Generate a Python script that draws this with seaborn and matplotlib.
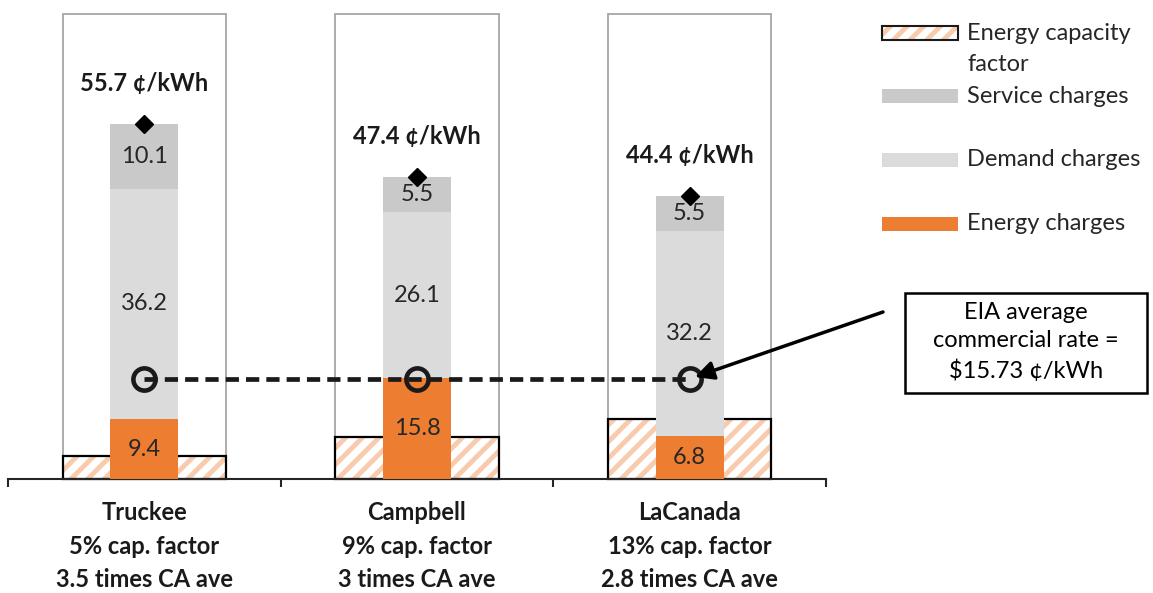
import numpy as np
import pandas as pd
import seaborn as sns
import matplotlib.pyplot as plt
from matplotlib.patches import Rectangle

# Rate comparison for three sites (cents per kWh)
sites = ["Truckee", "Campbell", "LaCanada"]
capacity_factor = [5, 9, 13]          # percent
times_ca_avg = [3.5, 3, 2.8]
energy = [9.4, 15.8, 6.8]
demand = [36.2, 26.1, 32.2]
service = [10.1, 5.5, 5.5]
totals = [55.7, 47.4, 44.4]
eia_rate = 15.73

sns.set_style("white")
plt.rcParams["font.family"] = ["Lato", "DejaVu Sans"]
plt.rcParams["hatch.linewidth"] = 3.5

ORANGE = "#ED7D31"
SERVICE = "#C9C9C9"
DEMAND = "#DBDBDB"
HATCH = "#F8CBAD"
TXT = "#262626"
FS = 17

W, H = 1153, 593
fig = plt.figure(figsize=(W / 100, H / 100), dpi=100)
ax = fig.add_axes([8 / W, 1 - 479 / H, 818 / W, 465 / H])
ax2 = ax.twinx()

df = pd.DataFrame({
    "site": sites,
    "cap": np.array(capacity_factor) / 100,
    "full": 1.0,
    "energy": energy,
    "lower": np.array(energy) + np.array(demand),
    "top": np.array(energy) + np.array(demand) + np.array(service),
})

# capacity-factor panel (0-100 %) behind the charges
sns.barplot(data=df, x="site", y="full", ax=ax, width=0.6, fill=False,
            color="#A6A6A6", saturation=1, linewidth=1.3, errorbar=None)
sns.barplot(data=df, x="site", y="cap", ax=ax, width=0.6, color="white",
            edgecolor=HATCH, hatch="//", linewidth=0, saturation=1,
            errorbar=None)
sns.barplot(data=df, x="site", y="cap", ax=ax, width=0.6, fill=False,
            color="black", saturation=1, linewidth=1.6, errorbar=None)
for p in ax.patches:
    p.set_clip_on(False)
ax.set_ylim(0, 1)

# stacked charges, drawn as cumulative layers
for col, c in [("top", SERVICE), ("lower", DEMAND), ("energy", ORANGE)]:
    sns.barplot(data=df, x="site", y=col, ax=ax2, width=0.25, color=c,
                saturation=1, linewidth=0, errorbar=None)
ax2.set_ylim(0, 73)

xs = np.arange(len(sites))
for i in xs:
    ax2.text(i, energy[i] / 2, f"{energy[i]}", ha="center", va="center",
             fontsize=FS, color=TXT)
    ax2.text(i, energy[i] + demand[i] / 2, f"{demand[i]}", ha="center",
             va="center", fontsize=FS, color=TXT)
    ax2.text(i, energy[i] + demand[i] + service[i] / 2, f"{service[i]}",
             ha="center", va="center", fontsize=FS, color=TXT)
    ax2.annotate(f"{totals[i]} ¢/kWh", (i, totals[i]), xytext=(0, 29),
                 textcoords="offset points", ha="center", va="center",
                 fontsize=FS, fontweight="bold", color="#1a1a1a")

ax2.plot(xs, totals, linestyle="none", marker="D", ms=9.5, color="black")
ax2.plot(xs, [eia_rate] * len(xs), color="#1a1a1a", lw=3.4,
         dashes=(2.8, 1.5), marker="o", ms=16, mfc="none", mew=3.3,
         mec="#1a1a1a")

ax2.annotate("", xy=(2, eia_rate), xytext=(883 / W, 1 - 312 / H),
             textcoords="figure fraction",
             arrowprops=dict(arrowstyle="-|>", color="black", lw=2.5,
                             mutation_scale=28, shrinkA=0, shrinkB=4))

# axes styling
for a in (ax, ax2):
    for s in ("top", "left", "right"):
        a.spines[s].set_visible(False)
    a.set_yticks([])
    a.set_ylabel("")
    a.set_xlabel("")
ax2.spines["bottom"].set_visible(False)
ax.spines["bottom"].set_color(TXT)
ax.spines["bottom"].set_linewidth(1.5)

labels = [f"{s}\n{c}% cap. factor\n{t:g} times CA ave"
          for s, c, t in zip(sites, capacity_factor, times_ca_avg)]
ax.set_xlim(-0.5, len(sites) - 0.5)
ax.set_xticks(xs)
ax.set_xticklabels(labels, fontsize=FS, fontweight="bold", color="#1a1a1a",
                   linespacing=1.55)
ax.set_xticks(np.arange(len(sites) + 1) - 0.5, minor=True)
ax.tick_params(axis="x", which="major", bottom=True, length=0, pad=16)
ax.tick_params(axis="x", which="minor", bottom=True, length=6, width=1.5,
               color=TXT, direction="out")

# legend
def px(x, y):
    return x / W, 1 - y / H

legend_items = [("Energy capacity\nfactor", None, 33),
                ("Service charges", SERVICE, 96.5),
                ("Demand charges", DEMAND, 160),
                ("Energy charges", ORANGE, 224)]
for text, color, yc in legend_items:
    x0, y0 = px(882, yc + 7)
    w, h = 76 / W, 14 / H
    if color is None:
        fig.add_artist(Rectangle((x0, y0), w, h, transform=fig.transFigure,
                                 facecolor="white", edgecolor=HATCH,
                                 hatch="//", linewidth=0))
        fig.add_artist(Rectangle((x0, y0), w, h, transform=fig.transFigure,
                                 fill=False, edgecolor="#1a1a1a",
                                 linewidth=1.5))
        tx, ty = px(967, yc - 10)
        fig.text(tx, ty, text, ha="left", va="top", fontsize=FS,
                 color=TXT, linespacing=1.6)
    else:
        fig.add_artist(Rectangle((x0, y0), w, h, transform=fig.transFigure,
                                 facecolor=color, linewidth=0))
        tx, ty = px(967, yc)
        fig.text(tx, ty, text, ha="left", va="center", fontsize=FS,
                 color=TXT)

# EIA callout box
bx0, by0 = px(905, 393)
fig.add_artist(Rectangle((bx0, by0), 242 / W, 100 / H,
                         transform=fig.transFigure, fill=False,
                         edgecolor="black", linewidth=1.8))
cx, cy = px(1026, 342)
fig.text(cx, cy, f"EIA average\ncommercial rate =\n\\${eia_rate} ¢/kWh",
         ha="center", va="center", fontsize=FS, color="black",
         linespacing=1.45)

fig.savefig("out.png", dpi=100)
